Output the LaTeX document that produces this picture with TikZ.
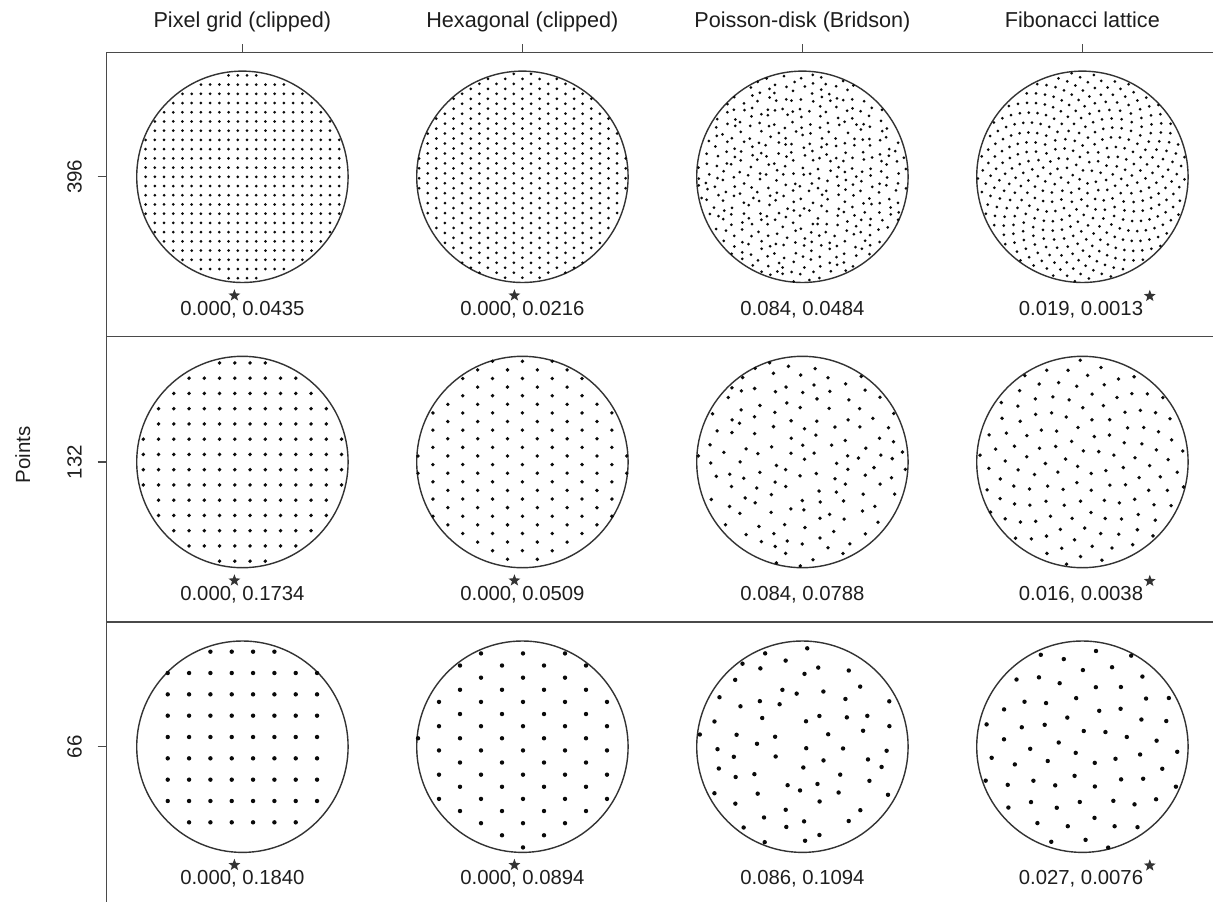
\documentclass[tikz,border=0pt]{standalone}
\usepackage{fontspec}
\setmainfont{Liberation Sans}
\usetikzlibrary{calc,shapes.geometric}
\definecolor{axisgray}{HTML}{4A4A4A}
\definecolor{circgray}{HTML}{333333}
\definecolor{stargray}{HTML}{333333}
\definecolor{txtcol}{HTML}{1E1E1E}
\definecolor{dotcol}{HTML}{0A0A0A}

% pixel grid: cx cy s ox oy n dotr Rc
\newcommand\pixdots[8]{%
 \foreach \i in {-#6,...,#6}{%
  \foreach \j in {-#6,...,#6}{%
   \pgfmathsetmacro\px{(\i+#4)*#3}%
   \pgfmathsetmacro\py{(\j+#5)*#3}%
   \pgfmathtruncatemacro\ins{(\px/100)*(\px/100)+(\py/100)*(\py/100) < (#8/100)*(#8/100) ? 1 : 0}%
   \ifnum\ins=1 \fill[dotcol] ({#1+\px},{#2+\py}) circle[radius=#7];\fi
 }}}
% 66-point pixel grid as drawn
\newcommand\pixsixtysix[2]{%
 \foreach \r/\a/\b in {-4/-2/1,-3/-4/3,-2/-4/3,-1/-4/3,0/-4/3,1/-4/3,2/-4/3,3/-4/3,4/-3/2}{%
  \foreach \i in {\a,...,\b}{%
   \fill[dotcol] ({#1+(\i+0.5)*21.33},{#2-9.7+\r*21.33}) circle[radius=2.2];}}}
% hex lattice (optionally jittered): cx cy a ox oy n dotr Rc jitter
\newcommand\hexdots[9]{%
 \foreach \i in {-#6,...,#6}{%
  \pgfmathtruncatemacro\od{mod(abs(\i),2)}%
  \foreach \j in {-#6,...,#6}{%
   \pgfmathsetmacro\px{#4+\i*#3*0.8660254+#9*#3*rand}%
   \pgfmathsetmacro\py{(\j+#5+0.5*\od)*#3+#9*#3*rand}%
   \pgfmathtruncatemacro\ins{(\px/100)*(\px/100)+(\py/100)*(\py/100) < (#8/100)*(#8/100) ? 1 : 0}%
   \ifnum\ins=1 \fill[dotcol] ({#1+\px},{#2+\py}) circle[radius=#7];\fi
 }}}
% Fibonacci lattice: cx cy N R dotr
\newcommand\fibdots[5]{%
 \foreach \k in {1,...,#3}{%
  \pgfmathsetmacro\fr{#4*sqrt((\k-0.5)/#3)}%
  \pgfmathsetmacro\fa{360*(\k*0.381966-floor(\k*0.381966))}%
  \fill[dotcol] ({#1+\fr*cos(\fa)},{#2+\fr*sin(\fa)}) circle[radius=#5];}}

\tikzset{
 axisline/.style={draw=axisgray, line width=1.3pt},
 disk/.style={draw=circgray, line width=1.4pt},
 coltitle/.style={font=\fontsize{21.6}{25}\selectfont, text=txtcol, anchor=base, inner sep=0},
 rowlabel/.style={font=\fontsize{20.5}{24}\selectfont, text=txtcol, anchor=base, inner sep=0, rotate=90},
 metric/.style={font=\fontsize{20.3}{24}\selectfont, text=txtcol, anchor=base, inner sep=0},
 starmark/.style={star, star points=5, star point ratio=2.4, fill=stargray, draw=none, minimum size=12.5pt, inner sep=0},
}

\begin{document}
\begin{tikzpicture}[x=1pt,y=-1pt]
\useasboundingbox[fill=white] (0,0) rectangle (1213,902);
\pgfmathsetseed{11}

% axes and separators
\draw[axisline] (106.7,902) -- (106.7,52.3) -- (1213,52.3);
\draw[axisline] (106.7,336.5) -- (1213,336.5);
\draw[axisline] (106.7,622) -- (1213,622);

% column titles and ticks
\foreach \cx/\t/\nm in {242.4/Pixel grid (clipped)/tA, 522.4/Hexagonal (clipped)/tB, 802.4/Poisson-disk (Bridson)/tC, 1082.4/Fibonacci lattice/tD}{
  \node[coltitle] (\nm) at (\cx,27.3) {\t};
  \draw[axisline] (\cx,44) -- (\cx,52.3);
}
% row labels and ticks
\foreach \cy/\t/\nm in {176.8/396/rA, 462/132/rB, 746.7/66/rC}{
  \node[rowlabel] (\nm) at (81.7,\cy) {\t};
  \draw[axisline] (97.7,\cy) -- (106.7,\cy);
}
\node[rowlabel] (ylab) at (30,455) {Points};

% circles
\foreach \cx in {242.4,522.4,802.4,1082.4}{
  \foreach \cy in {176.8,462,746.7}{
    \draw[disk] (\cx,\cy) circle[radius=105.7];
  }
}

% ---- row 1: 396 points
\pixdots{242.4}{176.8}{9.22}{0.5}{0}{12}{1.5}{103.7}
\hexdots{522.4}{176.8}{9.94}{0}{0.15}{13}{1.5}{105.3}{0}
\hexdots{802.4}{176.8}{9.94}{0}{0}{13}{1.5}{105}{0.26}
\fibdots{1082.4}{176.8}{396}{104.8}{1.5}
% ---- row 2: 132 points
\pixdots{242.4}{462}{15.25}{0.5}{0.5}{7}{1.9}{105.5}
\hexdots{522.4}{462}{17.22}{0}{0.15}{7}{1.9}{105.5}{0}
\hexdots{802.4}{462}{17.22}{0}{0}{7}{1.9}{105}{0.26}
\fibdots{1082.4}{462}{132}{104.8}{1.9}
% ---- row 3: 66 points
\pixsixtysix{242.4}{746.7}
\hexdots{522.4}{746.7}{24.25}{0.6}{0.1526}{5}{2.2}{105.5}{0}
\hexdots{802.4}{746.7}{24.4}{0}{0}{5}{2.2}{105}{0.26}
\fibdots{1082.4}{746.7}{66}{104.5}{2.2}

% metric labels
\node[metric] (m11) at (242.4,315) {0.000, 0.0435};
\node[metric] (m12) at (522.4,315) {0.000, 0.0216};
\node[metric] (m13) at (802.4,315) {0.084, 0.0484};
\node[metric] (m14) at (1081,315) {0.019, 0.0013};
\node[metric] (m21) at (242.4,600) {0.000, 0.1734};
\node[metric] (m22) at (522.4,600) {0.000, 0.0509};
\node[metric] (m23) at (802.4,600) {0.084, 0.0788};
\node[metric] (m24) at (1081,600) {0.016, 0.0038};
\node[metric] (m31) at (242.4,884.5) {0.000, 0.1840};
\node[metric] (m32) at (522.4,884.5) {0.000, 0.0894};
\node[metric] (m33) at (802.4,884.5) {0.086, 0.1094};
\node[metric] (m34) at (1081,884.5) {0.027, 0.0076};

% best-value stars
\foreach \m in {m11,m12,m21,m22,m31,m32}{
  \node[starmark] (s\m) at ($(\m.base west)+(54.3,-19.5)$) {};
}
\foreach \m in {m14,m24,m34}{
  \node[starmark] (s\m) at ($(\m.base east)+(6.5,-19)$) {};
}
\end{tikzpicture}
\end{document}
